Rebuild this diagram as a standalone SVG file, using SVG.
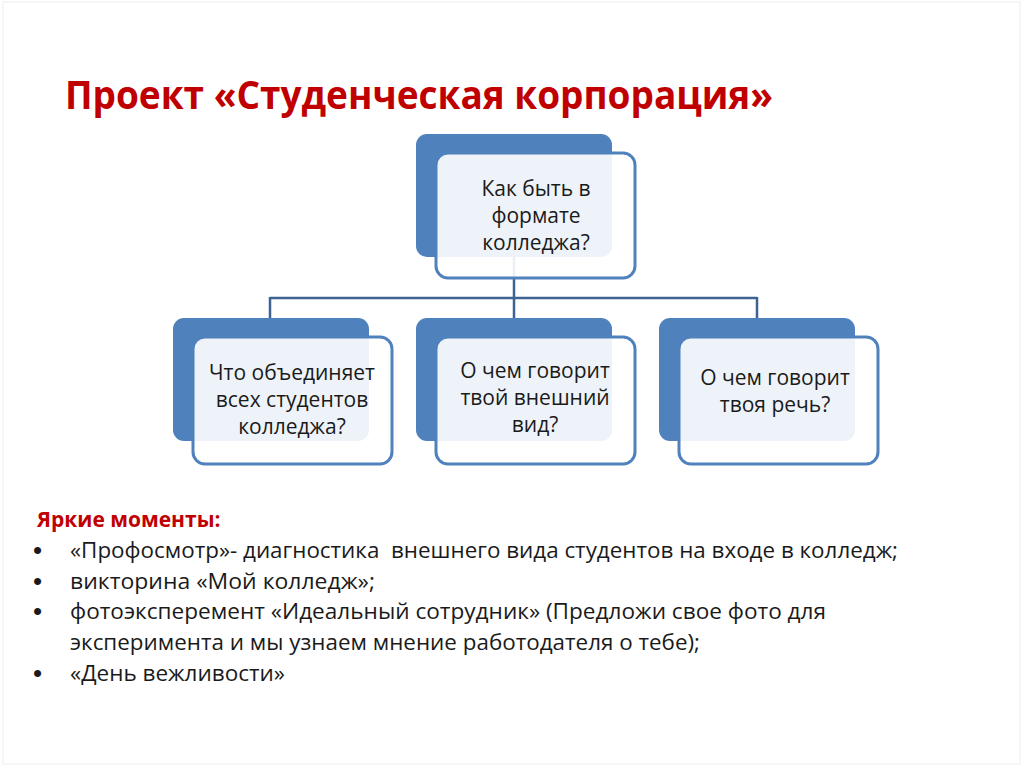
<svg xmlns="http://www.w3.org/2000/svg" width="1024" height="767" viewBox="0 0 1024 767">
<style>
.back{fill:#4f81bd;}
.front{fill:#ffffff;fill-opacity:0.9;stroke:#4f81bd;stroke-width:3;}
.nt{font-family:"Open Sans","Liberation Sans",sans-serif;font-size:21px;fill:#1a1a1a;text-anchor:middle;}
.conn{stroke:#3d6392;stroke-width:2.5;fill:none;}
.bt{font-family:"Open Sans","Liberation Sans",sans-serif;font-size:21px;fill:#1a1a1a;}
.dot{font-family:"Liberation Sans",sans-serif;font-size:26px;fill:#1a1a1a;}
</style>
<rect x="0" y="0" width="1024" height="767" fill="#ffffff"/>
<rect x="3" y="2" width="1017" height="762" fill="none" stroke="#f3f3f3" stroke-width="1.5"/>
<text x="65" y="109" font-family="'Open Sans','Liberation Sans',sans-serif" font-weight="bold" font-size="40" fill="#c00000" textLength="708" lengthAdjust="spacingAndGlyphs">Проект «Студенческая корпорация»</text>
<g id="connectors">
<path class="conn" d="M514 257 V298 M270 298 H757 M270 297 V318 M514 298 V318 M757 297 V318"/>
</g>
<g id="node-top">
<rect class="back" x="416" y="134" width="196" height="123" rx="11"/>
<rect class="front" x="436" y="153" width="199" height="125" rx="12"/>
<text class="nt" x="536" y="196">Как быть в</text>
<text class="nt" x="536" y="223">формате</text>
<text class="nt" x="536" y="250">колледжа?</text>
</g>
<g id="node-left">
<rect class="back" x="173" y="318" width="196" height="123" rx="11"/>
<rect class="front" x="193" y="337" width="199" height="127" rx="12"/>
<text class="nt" x="292" y="380">Что объединяет</text>
<text class="nt" x="292" y="407">всех студентов</text>
<text class="nt" x="292" y="434">колледжа?</text>
</g>
<g id="node-middle">
<rect class="back" x="416" y="318" width="196" height="123" rx="11"/>
<rect class="front" x="436" y="337" width="199" height="127" rx="12"/>
<text class="nt" x="535" y="378">О чем говорит</text>
<text class="nt" x="535" y="405">твой внешний</text>
<text class="nt" x="535" y="432">вид?</text>
</g>
<g id="node-right">
<rect class="back" x="659" y="318" width="196" height="123" rx="11"/>
<rect class="front" x="679" y="337" width="199" height="127" rx="12"/>
<text class="nt" x="775" y="385">О чем говорит</text>
<text class="nt" x="775" y="412">твоя речь?</text>
</g>
<g id="notes">
<text x="37" y="527" font-family="'Open Sans','Liberation Sans',sans-serif" font-weight="bold" font-size="21" fill="#c00000">Яркие моменты:</text>
<text class="dot" x="33" y="559">•</text>
<text class="bt" x="70" y="558" textLength="828" lengthAdjust="spacingAndGlyphs" xml:space="preserve">«Профосмотр»- диагностика  внешнего вида студентов на входе в колледж;</text>
<text class="dot" x="33" y="590">•</text>
<text class="bt" x="70" y="589" textLength="305" lengthAdjust="spacingAndGlyphs">викторина «Мой колледж»;</text>
<text class="dot" x="33" y="620">•</text>
<text class="bt" x="70" y="619" textLength="756" lengthAdjust="spacingAndGlyphs">фотоэксперемент «Идеальный сотрудник» (Предложи свое фото для</text>
<text class="bt" x="70" y="650" textLength="630" lengthAdjust="spacingAndGlyphs">эксперимента и мы узнаем мнение работодателя о тебе);</text>
<text class="dot" x="33" y="682">•</text>
<text class="bt" x="70" y="681" textLength="215" lengthAdjust="spacingAndGlyphs">«День вежливости»</text>
</g>
</svg>
